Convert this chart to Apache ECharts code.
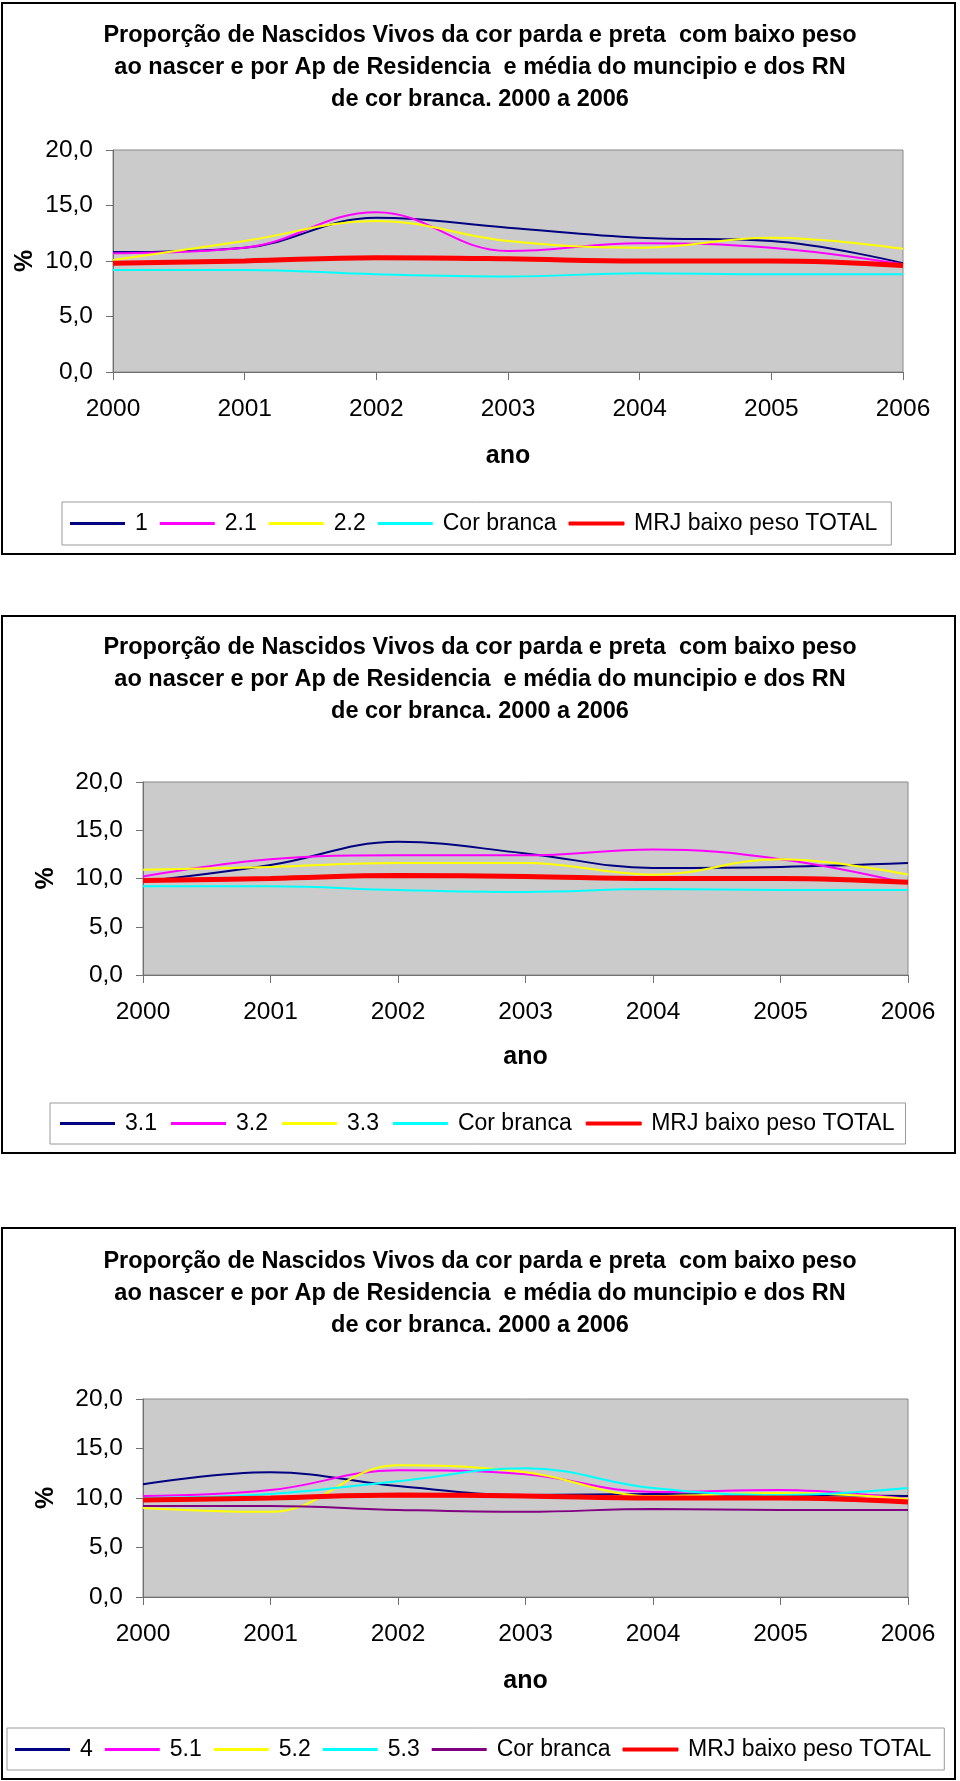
<!DOCTYPE html>
<html>
<head>
<meta charset="utf-8">
<script src="https://cdn.jsdelivr.net/npm/echarts@6/dist/echarts.min.js"></script>
<style>
html, body { margin: 0; padding: 0; background: #ffffff; }
body { width: 960px; height: 1781px; position: relative; overflow: hidden; }
.chart { position: absolute; left: 0; width: 960px; }
.frame { position: absolute; border: 2px solid #000; box-sizing: border-box; pointer-events: none; }
</style>
</head>
<body>
<div id="c1" class="chart" style="top:0px;height:560px"></div>
<div id="c2" class="chart" style="top:600px;height:560px"></div>
<div id="c3" class="chart" style="top:1215px;height:566px"></div>
<div class="frame" style="left:1px;top:2px;width:955px;height:553px"></div>
<div class="frame" style="left:1px;top:615px;width:955px;height:539px"></div>
<div class="frame" style="left:1px;top:1227px;width:955px;height:553px"></div>
<script>
// ---- data ----
const years = ['2000', '2001', '2002', '2003', '2004', '2005', '2006'];
const yTickValues = [0, 5, 10, 15, 20];
const yTickLabels = ['0,0', '5,0', '10,0', '15,0', '20,0'];

const corBranca = [9.2, 9.2, 8.8, 8.6, 8.9, 8.8, 8.8];
const mrjTotal  = [9.8, 10.0, 10.3, 10.2, 10.0, 10.0, 9.6];

const ap1  = [10.8, 11.2, 13.9, 13.0, 12.1, 11.8, 9.8];
const ap21 = [10.7, 11.2, 14.4, 10.9, 11.6, 11.2, 9.7];
const ap22 = [10.1, 11.8, 13.6, 11.8, 11.2, 12.1, 11.1];

const ap31 = [9.7, 11.4, 13.8, 12.6, 11.1, 11.2, 11.6];
const ap32 = [10.2, 12.0, 12.4, 12.4, 13.0, 12.0, 9.5];
const ap33 = [10.9, 11.2, 11.6, 11.6, 10.4, 12.0, 10.4];

const ap4  = [11.4, 12.6, 11.2, 10.3, 10.4, 10.3, 10.2];
const ap51 = [10.2, 10.8, 12.8, 12.4, 10.6, 10.8, 9.9];
const ap52 = [9.0, 8.6, 13.3, 12.6, 10.2, 10.5, 9.9];
const ap53 = [10.0, 10.4, 11.7, 13.0, 11.0, 10.3, 11.0];

const titleText = 'Proporção de Nascidos Vivos da cor parda e preta  com baixo peso\n' +
  'ao nascer e por Ap de Residencia  e média do muncipio e dos RN\n' +
  'de cor branca. 2000 a 2006';

const FONT = '"Liberation Sans", Arial, Helvetica, sans-serif';

const chartSeries = [
  [
    { name: '1', data: ap1, color: '#000080' },
    { name: '2.1', data: ap21, color: '#ff00ff' },
    { name: '2.2', data: ap22, color: '#ffff00' },
    { name: 'Cor branca', data: corBranca, color: '#00ffff' },
    { name: 'MRJ baixo peso TOTAL', data: mrjTotal, color: '#ff0000', thick: true }
  ],
  [
    { name: '3.1', data: ap31, color: '#000080' },
    { name: '3.2', data: ap32, color: '#ff00ff' },
    { name: '3.3', data: ap33, color: '#ffff00' },
    { name: 'Cor branca', data: corBranca, color: '#00ffff' },
    { name: 'MRJ baixo peso TOTAL', data: mrjTotal, color: '#ff0000', thick: true }
  ],
  [
    { name: '4', data: ap4, color: '#000080' },
    { name: '5.1', data: ap51, color: '#ff00ff' },
    { name: '5.2', data: ap52, color: '#ffff00' },
    { name: '5.3', data: ap53, color: '#00ffff' },
    { name: 'Cor branca', data: corBranca, color: '#800080' },
    { name: 'MRJ baixo peso TOTAL', data: mrjTotal, color: '#ff0000', thick: true }
  ]
];

// ---- layout (per panel, in container pixels) ----
const layouts = [
  { titleTop: 20, grid: { left: 113, top: 150, width: 790, height: 222 }, anoGap: 72, pctGap: 75,
    legend: { left: 62, top: 502, padding: [10, 14, 10, 8], itemGap: 12 } },
  { titleTop: 32, grid: { left: 143, top: 182, width: 765, height: 193 }, anoGap: 70, pctGap: 84,
    legend: { left: 50, top: 503, padding: [9, 11, 9, 10], itemGap: 14 } },
  { titleTop: 31, grid: { left: 143, top: 184, width: 765, height: 198 }, anoGap: 72, pctGap: 84,
    legend: { left: 7, top: 513, padding: [10, 13, 9, 8], itemGap: 12 } }
];

function buildOption(list, L) {
  return {
    animation: false,
    backgroundColor: 'transparent',
    title: {
      text: titleText,
      left: 'center',
      top: L.titleTop,
      padding: 0,
      textStyle: { fontFamily: FONT, fontSize: 23.5, fontWeight: 'bold', color: '#000', lineHeight: 32 }
    },
    legend: {
      left: L.legend.left,
      top: L.legend.top,
      padding: L.legend.padding,
      itemGap: L.legend.itemGap,
      orient: 'horizontal',
      itemWidth: 55,
      itemHeight: 3,
      icon: 'rect',
      selectedMode: false,
      borderColor: '#9a9a9a',
      borderWidth: 1,
      backgroundColor: '#ffffff',
      itemStyle: { borderWidth: 0 },
      textStyle: { fontFamily: FONT, fontSize: 23, color: '#000', padding: [0, 0, 0, 5] },
      data: list.map(s => ({
        name: s.name,
        icon: 'rect',
        itemStyle: s.thick
          ? { color: s.color, borderColor: s.color, borderWidth: 1 }
          : { color: s.color, borderWidth: 0 }
      }))
    },
    grid: {
      left: L.grid.left, top: L.grid.top, width: L.grid.width, height: L.grid.height,
      show: true, backgroundColor: '#cbcbcb', borderColor: '#8a8a8a', borderWidth: 1,
      containLabel: false, outerBoundsMode: 'none'
    },
    xAxis: {
      type: 'category',
      data: years,
      boundaryGap: false,
      name: 'ano',
      nameLocation: 'middle',
      nameGap: L.anoGap,
      nameMoveOverlap: false,
      nameTextStyle: { fontFamily: FONT, fontSize: 25, fontWeight: 'bold', color: '#000' },
      axisLine: { show: true, lineStyle: { color: '#707070', width: 1 } },
      axisTick: { show: true, length: 8, lineStyle: { color: '#707070' } },
      axisLabel: { interval: 0, margin: 25, fontFamily: FONT, fontSize: 24.5, color: '#000' },
      splitLine: { show: false }
    },
    yAxis: {
      type: 'value',
      min: 0, max: 20, interval: 5,
      name: '%',
      nameLocation: 'middle',
      nameRotate: 90,
      nameGap: L.pctGap,
      nameMoveOverlap: false,
      nameTextStyle: { fontFamily: FONT, fontSize: 25, fontWeight: 'bold', color: '#000' },
      axisLine: { show: true, lineStyle: { color: '#707070', width: 1 } },
      axisTick: { show: true, length: 7, lineStyle: { color: '#707070' } },
      axisLabel: {
        margin: 20, fontFamily: FONT, fontSize: 24.5, color: '#000',
        formatter: v => { const i = yTickValues.indexOf(v); return i >= 0 ? yTickLabels[i] : ''; }
      },
      splitLine: { show: false }
    },
    series: list.map((s, i) => ({
      name: s.name,
      type: 'line',
      data: s.data,
      smooth: 0.4,
      symbol: 'none',
      z: 2 + i,
      itemStyle: { color: s.color },
      lineStyle: { color: s.color, width: s.thick ? 5 : 2 }
    }))
  };
}

['c1', 'c2', 'c3'].forEach((id, k) => {
  const chart = echarts.init(document.getElementById(id), null, { renderer: 'canvas' });
  chart.setOption(buildOption(chartSeries[k], layouts[k]));
});
</script>
</body>
</html>
